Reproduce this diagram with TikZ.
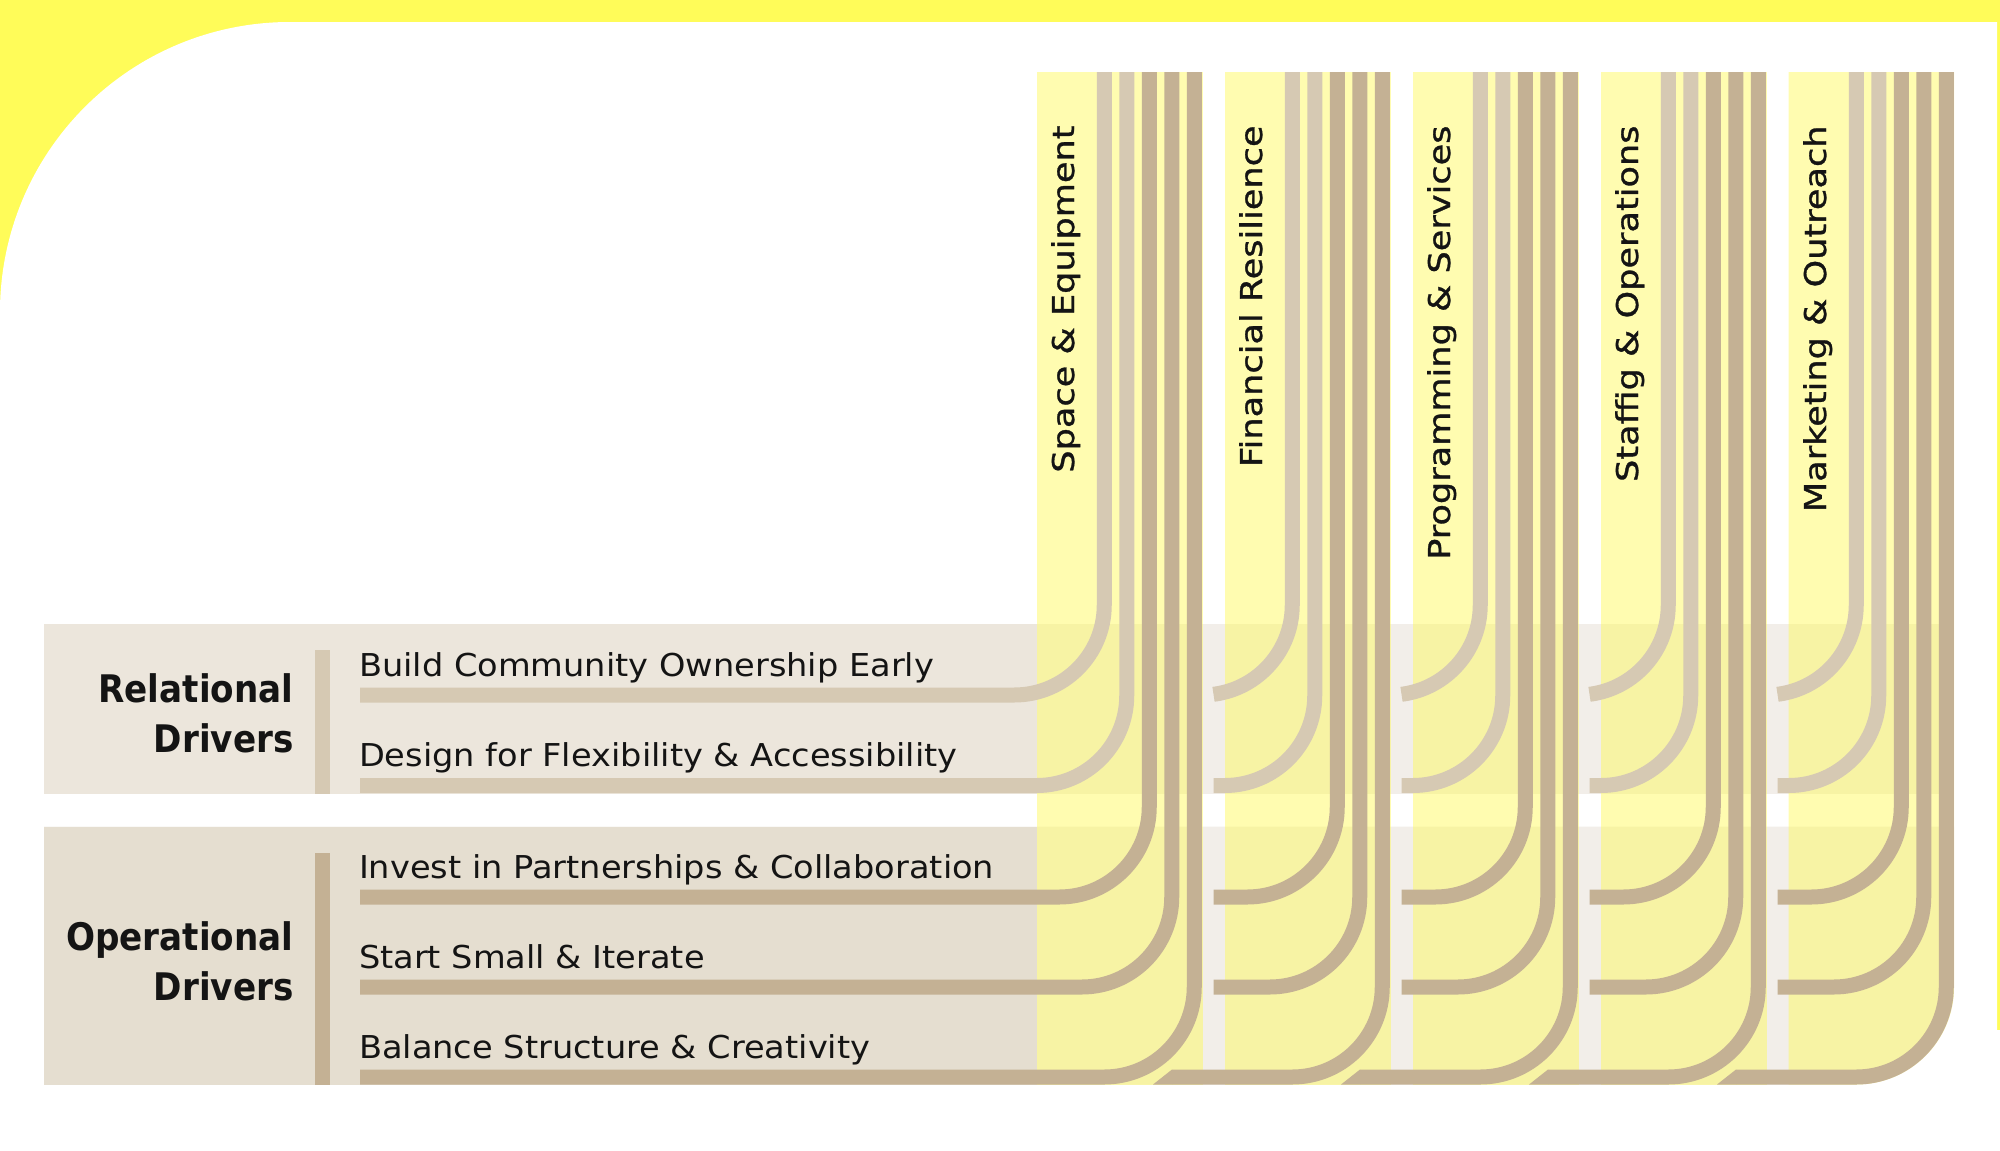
\documentclass[tikz,border=0pt]{standalone}
\usepackage{fontspec}
\setmainfont{DejaVu Sans}
\newfontfamily\drvfont[FakeStretch=1.067]{DejaVu Sans}
\newfontfamily\headfont[FakeStretch=0.9]{DejaVu Sans}
\newfontfamily\colfont[FakeStretch=1.17,FakeBold=1]{DejaVu Sans}
\begin{document}
\begin{tikzpicture}[x=1pt,y=-1pt,
  colbar/.style={fill=colYellow,fill opacity=0.42},
  relline/.style={draw=relLine,line width=15pt},
  opline/.style={draw=opLine,line width=15pt},
  elbow/.style={rounded corners=90pt},
  colhead/.style={rotate=90,anchor=base east,inner sep=0pt,outer sep=0pt,text=inkColor,font=\colfont\fontsize{30}{36}\selectfont},
  grouphead/.style={anchor=base east,inner sep=0pt,outer sep=0pt,text=inkColor,font=\headfont\bfseries\fontsize{38}{46}\selectfont},
  drivertext/.style={anchor=base west,inner sep=0pt,outer sep=0pt,text=inkColor,font=\drvfont\fontsize{31.5}{38}\selectfont}]
\definecolor[named]{bgYellow}{rgb}{1.00,0.99,0.35}
\definecolor[named]{colYellow}{rgb}{1.00,0.98,0.27}
\definecolor[named]{relBand}{rgb}{0.925,0.902,0.863}
\definecolor[named]{opBand}{rgb}{0.898,0.871,0.816}
\definecolor[named]{lightBand}{rgb}{0.949,0.933,0.914}
\definecolor[named]{relLine}{rgb}{0.839,0.788,0.702}
\definecolor[named]{opLine}{rgb}{0.769,0.694,0.580}
\definecolor[named]{inkColor}{rgb}{0.08,0.08,0.08}
\path[use as bounding box,fill=bgYellow] (0,0) rectangle (2000,1151);

\path[fill=white] (0,1151) -- (0,312) .. controls (0,151.8) and (129.8,22) .. (290,22) --
	(1997,22) -- (1997,1030) -- (2000,1030) -- (2000,1151) -- cycle;

\path[fill=lightBand] (44,624) rectangle (1954,794);
\path[fill=relBand] (44,624) rectangle (1036.5,794);
\path[fill=lightBand] (44,826.5) -- (1954,826.5) -- (1954,987) .. controls (1954,1040.85) and (1910.1,1084.5) .. (1856.25,1084.5) --
	(44,1084.5) -- cycle;
\path[fill=opBand] (44,826.5) rectangle (1036.5,1084.5);

\path[fill=relLine] (314.5,650) rectangle (329.5,794);
\path[fill=opLine] (314.5,853) rectangle (329.5,1084.5);

\path[colbar] (1036.5,72) rectangle (1202.5,1084.5);
\path[colbar] (1224.5,72) rectangle (1390.5,1084.5);
\path[colbar] (1412.5,72) rectangle (1578.5,1084.5);
\path[colbar] (1600.5,72) rectangle (1766.5,1084.5);
\path[colbar] (1788.5,72) -- (1954,72) -- (1954,987) .. controls (1954,1040.85) and (1910.1,1084.5) .. (1856.25,1084.5) --
	(1788.5,1084.5) -- cycle;

\draw[relline,elbow] (360,695) -- (1104.25,695) -- (1104.25,72);
\draw[relline,elbow] (360,785.5) -- (1126.75,785.5) -- (1126.75,72);
\draw[opline,elbow] (360,897) -- (1149.25,897) -- (1149.25,72);
\draw[opline,elbow] (360,987) -- (1171.75,987) -- (1171.75,72);
\draw[opline,elbow] (360,1077) -- (1194.25,1077) -- (1194.25,72);

\draw[relline] (1213.5,694.3) .. controls (1258.5,688.6) and (1292.25,650.4) .. (1292.25,605) -- (1292.25,72);
\draw[relline,elbow] (1213.5,785.5) -- (1314.75,785.5) -- (1314.75,72);
\draw[opline,elbow] (1213.5,897) -- (1337.25,897) -- (1337.25,72);
\draw[opline,elbow] (1213.5,987) -- (1359.75,987) -- (1359.75,72);
\path[fill=opLine] (1153,1084.5) -- (1172,1069.5) -- (1172,1084.5) -- cycle;
\draw[opline,elbow] (1172,1077) -- (1382.25,1077) -- (1382.25,72);

\draw[relline] (1401.5,694.3) .. controls (1446.5,688.6) and (1480.25,650.4) .. (1480.25,605) -- (1480.25,72);
\draw[relline,elbow] (1401.5,785.5) -- (1502.75,785.5) -- (1502.75,72);
\draw[opline,elbow] (1401.5,897) -- (1525.25,897) -- (1525.25,72);
\draw[opline,elbow] (1401.5,987) -- (1547.75,987) -- (1547.75,72);
\path[fill=opLine] (1341,1084.5) -- (1360,1069.5) -- (1360,1084.5) -- cycle;
\draw[opline,elbow] (1360,1077) -- (1570.25,1077) -- (1570.25,72);

\draw[relline] (1589.5,694.3) .. controls (1634.5,688.6) and (1668.25,650.4) .. (1668.25,605) -- (1668.25,72);
\draw[relline,elbow] (1589.5,785.5) -- (1690.75,785.5) -- (1690.75,72);
\draw[opline,elbow] (1589.5,897) -- (1713.25,897) -- (1713.25,72);
\draw[opline,elbow] (1589.5,987) -- (1735.75,987) -- (1735.75,72);
\path[fill=opLine] (1529,1084.5) -- (1548,1069.5) -- (1548,1084.5) -- cycle;
\draw[opline,elbow] (1548,1077) -- (1758.25,1077) -- (1758.25,72);

\draw[relline] (1777.5,694.3) .. controls (1822.5,688.6) and (1856.25,650.4) .. (1856.25,605) -- (1856.25,72);
\draw[relline,elbow] (1777.5,785.5) -- (1878.75,785.5) -- (1878.75,72);
\draw[opline,elbow] (1777.5,897) -- (1901.25,897) -- (1901.25,72);
\draw[opline,elbow] (1777.5,987) -- (1923.75,987) -- (1923.75,72);
\path[fill=opLine] (1717,1084.5) -- (1736,1069.5) -- (1736,1084.5) -- cycle;
\draw[opline,elbow] (1736,1077) -- (1946.25,1077) -- (1946.25,72);

\node[colhead] (spaceEquip) at (1074,125.5) {Space \& Equipment};
\node[colhead] (finResil) at (1262,125.5) {Financial Resilience};
\node[colhead] (progServ) at (1450,125.5) {Programming \& Services};
\node[colhead] (staffOps) at (1638,125.5) {Staffig \& Operations};
\node[colhead] (marketOut) at (1826,125.5) {Marketing \& Outreach};

\node[grouphead] (relTop) at (293.5,702.7) {Relational};
\node[grouphead] (relBottom) at (293.5,752.7) {Drivers};
\node[grouphead] (opTop) at (293.5,950.7) {Operational};
\node[grouphead] (opBottom) at (293.5,1000) {Drivers};

\node[drivertext] (ownership) at (359,676) {Build Community Ownership Early};
\node[drivertext] (flexibility) at (359,766) {Design for Flexibility \& Accessibility};
\node[drivertext] (partners) at (359,878) {Invest in Partnerships \& Collaboration};
\node[drivertext] (iterate) at (359,968) {Start Small \& Iterate};
\node[drivertext] (balance) at (359,1058) {Balance Structure \& Creativity};
\end{tikzpicture}
\end{document}
